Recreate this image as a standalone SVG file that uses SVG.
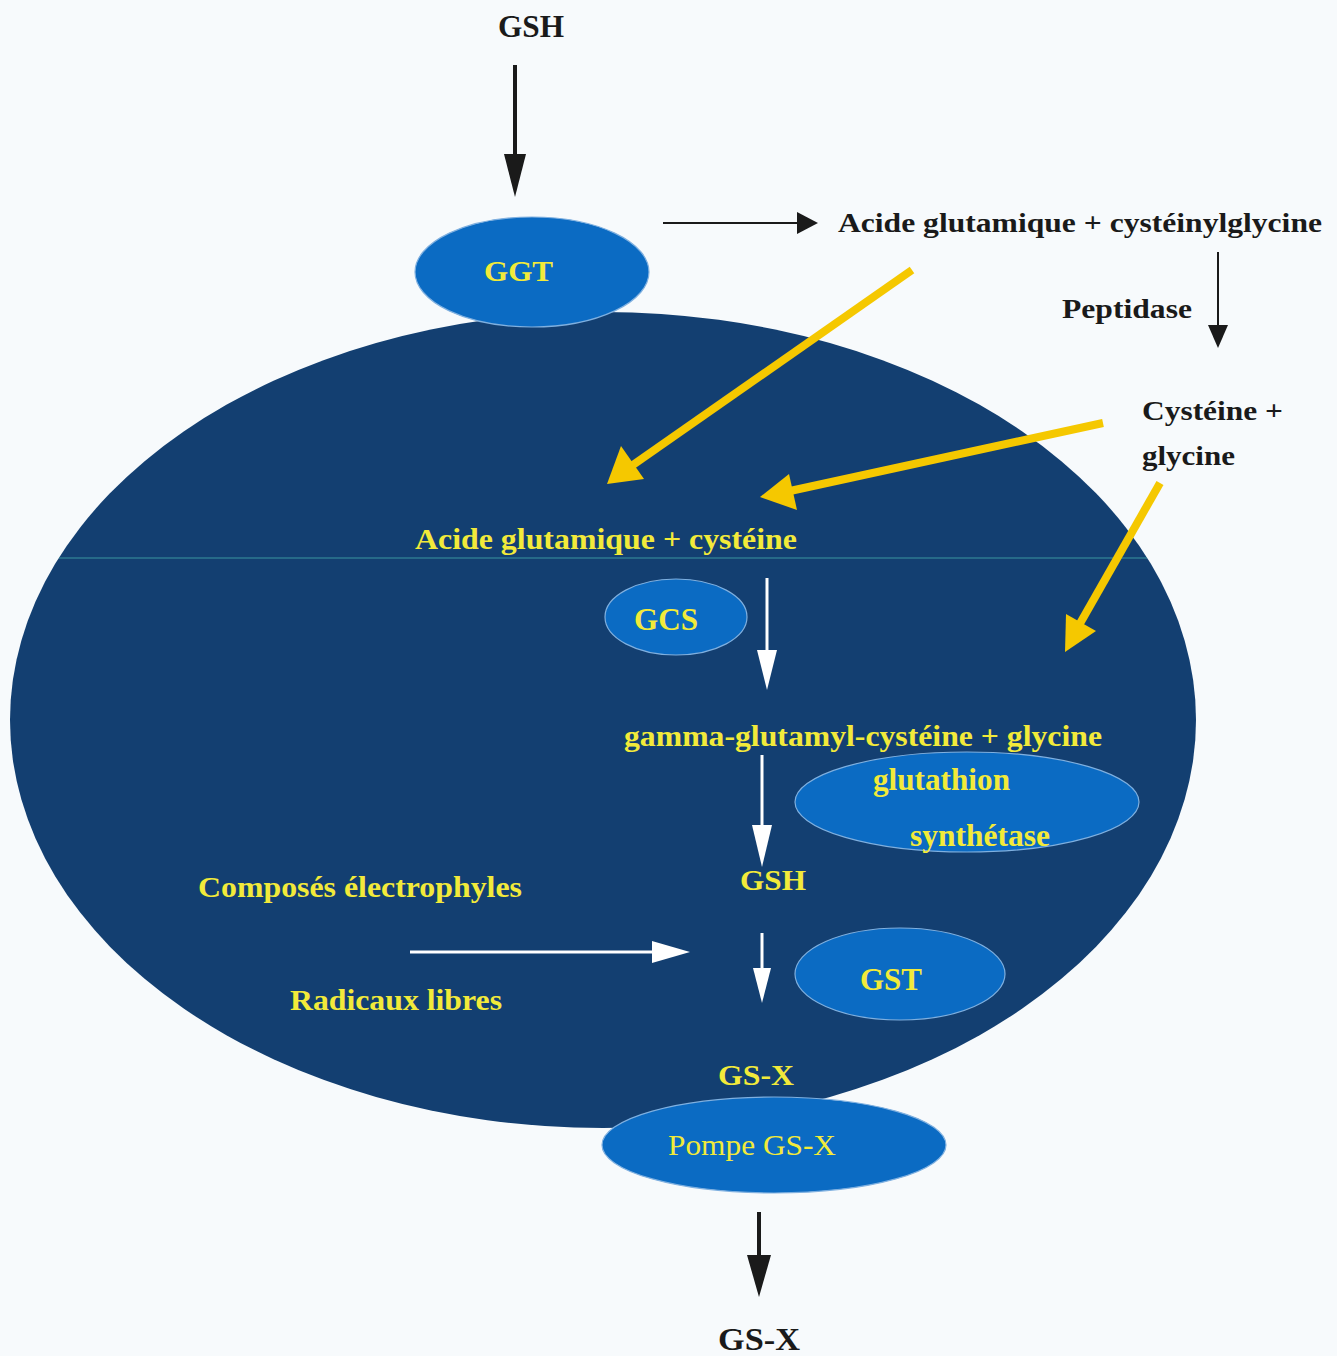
<svg xmlns="http://www.w3.org/2000/svg" width="1337" height="1356" viewBox="0 0 1337 1356">
<style>
.bk{font-family:"Liberation Serif",serif;font-weight:700;fill:#1a1a1a}
.yl{font-family:"Liberation Serif",serif;font-weight:700;fill:#f2ea3a}
.ylr{font-family:"Liberation Serif",serif;font-weight:400;fill:#f2ea3a}
.enz{fill:#0b6bc3;stroke:#7fb0e0;stroke-width:1.2}
.blk{stroke:#1a1a1a;fill:none}
.blkh{fill:#1a1a1a}
.wht{stroke:#ffffff;stroke-width:3;fill:none}
.whth{fill:#ffffff}
.ylw{stroke:#f5c800;stroke-width:8;fill:none}
.ylwh{fill:#f5c800}
</style>
<rect x="0" y="0" width="1337" height="1356" fill="#f7fafc"/>
<g id="cell">
<ellipse cx="603" cy="720" rx="593" ry="408" fill="#133f71"/>
<line x1="59" y1="558" x2="1147" y2="558" stroke="#3a95a0" stroke-width="1.2"/>
</g>
<g id="connectors">
<line class="blk" x1="515" y1="65" x2="515" y2="158" stroke-width="4"/>
<polygon class="blkh" points="504,154 526,154 515,197"/>
<line class="blk" x1="663" y1="223" x2="800" y2="223" stroke-width="2"/>
<polygon class="blkh" points="797,212 797,234 818,223"/>
<line class="blk" x1="1218" y1="252" x2="1218" y2="328" stroke-width="2"/>
<polygon class="blkh" points="1208,325 1228,325 1218,348"/>
<line class="ylw" x1="912" y1="270" x2="630" y2="467"/>
<polygon class="ylwh" points="607,484 621,446 644,479"/>
<line class="ylw" x1="1103" y1="423" x2="790" y2="491"/>
<polygon class="ylwh" points="760,497 789,474 797,510"/>
<line class="ylw" x1="1160" y1="483" x2="1078" y2="627"/>
<polygon class="ylwh" points="1065,652 1066,614 1096,631"/>
<line class="wht" x1="767" y1="578" x2="767" y2="655"/>
<polygon class="whth" points="757,650 777,650 767,690"/>
<line class="wht" x1="762" y1="755" x2="762" y2="830"/>
<polygon class="whth" points="752,825 772,825 762,867"/>
<line class="wht" x1="410" y1="952" x2="656" y2="952"/>
<polygon class="whth" points="652,941 652,963 690,952"/>
<line class="wht" x1="762" y1="933" x2="762" y2="972"/>
<polygon class="whth" points="753,968 771,968 762,1003"/>
<line class="blk" x1="759" y1="1212" x2="759" y2="1260" stroke-width="4"/>
<polygon class="blkh" points="747,1255 771,1255 759,1297"/>
</g>
<g id="GSH-top"><text class="bk" x="498" y="37" font-size="31" textLength="66" lengthAdjust="spacingAndGlyphs">GSH</text></g>
<g id="acide-cysteinylglycine"><text class="bk" x="838" y="232" font-size="28" textLength="484" lengthAdjust="spacingAndGlyphs">Acide glutamique + cystéinylglycine</text></g>
<g id="peptidase"><text class="bk" x="1062" y="318" font-size="28" textLength="130" lengthAdjust="spacingAndGlyphs">Peptidase</text></g>
<g id="cysteine-glycine">
<text class="bk" x="1142" y="420" font-size="28" textLength="141" lengthAdjust="spacingAndGlyphs">Cystéine +</text>
<text class="bk" x="1142" y="465" font-size="28" textLength="93" lengthAdjust="spacingAndGlyphs">glycine</text>
</g>
<g id="GGT">
<ellipse class="enz" cx="532" cy="272" rx="117" ry="55"/>
<text class="yl" x="484" y="281" font-size="30" textLength="69" lengthAdjust="spacingAndGlyphs">GGT</text>
</g>
<g id="acide-cysteine"><text class="yl" x="415" y="549" font-size="29" textLength="382" lengthAdjust="spacingAndGlyphs">Acide glutamique + cystéine</text></g>
<g id="GCS">
<ellipse class="enz" cx="676" cy="617" rx="71" ry="38"/>
<text class="yl" x="634" y="630" font-size="31" textLength="64" lengthAdjust="spacingAndGlyphs">GCS</text>
</g>
<g id="gamma-glutamyl"><text class="yl" x="624" y="746" font-size="29" textLength="478" lengthAdjust="spacingAndGlyphs">gamma-glutamyl-cystéine + glycine</text></g>
<g id="glutathion-synthetase">
<ellipse class="enz" cx="967" cy="802" rx="172" ry="50"/>
<text class="yl" x="873" y="790" font-size="31" textLength="137" lengthAdjust="spacingAndGlyphs">glutathion</text>
<text class="yl" x="910" y="846" font-size="31" textLength="140" lengthAdjust="spacingAndGlyphs">synthétase</text>
</g>
<g id="GSH-in"><text class="yl" x="740" y="890" font-size="29" textLength="66" lengthAdjust="spacingAndGlyphs">GSH</text></g>
<g id="composes"><text class="yl" x="198" y="897" font-size="29" textLength="324" lengthAdjust="spacingAndGlyphs">Composés électrophyles</text></g>
<g id="radicaux"><text class="yl" x="290" y="1010" font-size="29" textLength="212" lengthAdjust="spacingAndGlyphs">Radicaux libres</text></g>
<g id="GST">
<ellipse class="enz" cx="900" cy="974" rx="105" ry="46"/>
<text class="yl" x="860" y="990" font-size="31" textLength="62" lengthAdjust="spacingAndGlyphs">GST</text>
</g>
<g id="GSX-in"><text class="yl" x="718" y="1085" font-size="29" textLength="76" lengthAdjust="spacingAndGlyphs">GS-X</text></g>
<g id="pompe">
<ellipse class="enz" cx="774" cy="1145" rx="172" ry="48"/>
<text class="ylr" x="668" y="1155" font-size="29" textLength="168" lengthAdjust="spacingAndGlyphs">Pompe GS-X</text>
</g>
<g id="GSX-out"><text class="bk" x="718" y="1350" font-size="31" textLength="82" lengthAdjust="spacingAndGlyphs">GS-X</text></g>
</svg>
